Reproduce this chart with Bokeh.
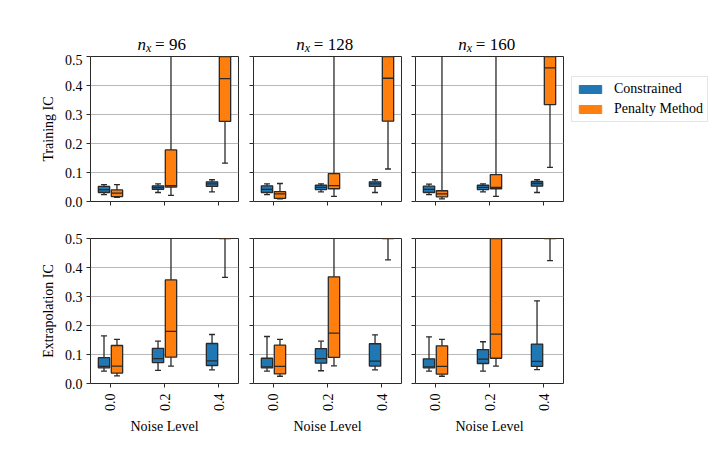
import math
import pandas as pd
from bokeh.plotting import figure
from bokeh.models import (ColumnDataSource, Range1d, FixedTicker, Label, Legend,
                          LegendItem, PrintfTickFormatter, CustomJSTickFormatter)
from bokeh.layouts import row, column
from bokeh.embed import file_html
from bokeh.resources import INLINE

# ---------------- data ----------------
noise_levels = ["0.0", "0.2", "0.4"]
nx_values = [96, 128, 160]
methods = ["Constrained", "Penalty Method"]
row_labels = ["Training IC", "Extrapolation IC"]
y_ticks = [0.0, 0.1, 0.2, 0.3, 0.4, 0.5]

# each entry: [whisker_low, q1, median, q3, whisker_high] per noise level
train_con_96 = [[0.024, 0.031, 0.041, 0.052, 0.058], [0.031, 0.042, 0.048, 0.054, 0.061], [0.033, 0.052, 0.061, 0.068, 0.075]]
train_pen_96 = [[0.014, 0.017, 0.029, 0.040, 0.058], [0.021, 0.050, 0.055, 0.178, 0.80], [0.132, 0.276, 0.424, 0.60, 0.90]]
train_con_128 = [[0.024, 0.031, 0.042, 0.054, 0.061], [0.033, 0.041, 0.049, 0.056, 0.061], [0.031, 0.052, 0.061, 0.068, 0.075]]
train_pen_128 = [[0.009, 0.011, 0.026, 0.034, 0.062], [0.018, 0.044, 0.055, 0.096, 0.80], [0.112, 0.277, 0.425, 0.60, 0.90]]
train_con_160 = [[0.024, 0.031, 0.042, 0.053, 0.060], [0.033, 0.041, 0.049, 0.056, 0.061], [0.031, 0.053, 0.062, 0.069, 0.075]]
train_pen_160 = [[0.009, 0.016, 0.026, 0.037, 0.70], [0.018, 0.044, 0.049, 0.093, 0.80], [0.118, 0.334, 0.461, 0.60, 0.90]]

ext_con_96 = [[0.043, 0.054, 0.059, 0.089, 0.164], [0.045, 0.072, 0.086, 0.121, 0.146], [0.047, 0.062, 0.078, 0.138, 0.169]]
ext_pen_96 = [[0.026, 0.036, 0.060, 0.131, 0.152], [0.060, 0.091, 0.180, 0.357, 0.80], [0.366, 0.60, 0.75, 0.90, 1.20]]
ext_con_128 = [[0.043, 0.054, 0.057, 0.087, 0.162], [0.044, 0.070, 0.086, 0.120, 0.146], [0.047, 0.060, 0.077, 0.137, 0.168]]
ext_pen_128 = [[0.025, 0.033, 0.059, 0.132, 0.152], [0.061, 0.090, 0.174, 0.368, 0.80], [0.426, 0.60, 0.75, 0.90, 1.20]]
ext_con_160 = [[0.043, 0.054, 0.057, 0.085, 0.161], [0.043, 0.069, 0.084, 0.117, 0.144], [0.048, 0.059, 0.076, 0.136, 0.285]]
ext_pen_160 = [[0.025, 0.032, 0.059, 0.130, 0.152], [0.060, 0.087, 0.170, 0.55, 0.90], [0.424, 0.60, 0.75, 0.90, 1.20]]

panels = [
    [(train_con_96, train_pen_96), (train_con_128, train_pen_128), (train_con_160, train_pen_160)],
    [(ext_con_96, ext_pen_96), (ext_con_128, ext_pen_128), (ext_con_160, ext_pen_160)],
]

# ---------------- style ----------------
SERIF = "'Liberation Serif', 'Times New Roman', serif"
COLORS = ["#1f77b4", "#ff7f0e"]
EDGE = "#2a2a2a"
OFFSETS = [-0.12, 0.12]
BOX_W = 0.21
CAP_HALF = 0.055
FRAME_W, FRAME_H = 148, 145
BORDER_L = [90, 13, 12]
BORDER_R = [2, 2, 2]
TITLE_H = 54
TITLE_FS = 17


def box_source(stats, offset):
    df = pd.DataFrame(stats, columns=["lo", "q1", "med", "q3", "hi"])
    df["x"] = [i + offset for i in range(len(stats))]
    df["bl"] = df["x"] - BOX_W / 2
    df["br"] = df["x"] + BOX_W / 2
    df["cl"] = df["x"] - CAP_HALF
    df["cr"] = df["x"] + CAP_HALF
    return ColumnDataSource(df)


def blank_fig(width, height, left=0, right=0):
    p = figure(frame_width=width, frame_height=height,
               x_range=Range1d(0, width), y_range=Range1d(0, height),
               output_backend="svg", toolbar_location=None,
               min_border_left=left, min_border_right=right,
               min_border_top=0, min_border_bottom=0)
    p.axis.visible = False
    p.grid.visible = False
    p.outline_line_color = None
    return p


def make_title(c):
    p = blank_fig(FRAME_W, TITLE_H, BORDER_L[c], BORDER_R[c])
    num = str(nx_values[c])
    total = 0.5 * TITLE_FS + 5.5 + 3 + 0.564 * TITLE_FS + 0.25 * TITLE_FS + 0.5 * TITLE_FS * len(num)
    left = FRAME_W / 2 - 3 - total / 2
    base = 10
    common = dict(text_font=SERIF, text_baseline="alphabetic", text_align="left", text_color="black")
    p.add_layout(Label(x=left, y=base, text="n", text_font_style="italic",
                       text_font_size=f"{TITLE_FS}px", **common))
    p.add_layout(Label(x=left + 0.5 * TITLE_FS, y=base - 3, text="x", text_font_style="italic",
                       text_font_size="12px", **common))
    p.add_layout(Label(x=left + 0.5 * TITLE_FS + 9, y=base, text=f"= {num}",
                       text_font_size=f"{TITLE_FS}px", **common))
    return p


def make_panel(r, c, con, pen):
    p = figure(frame_width=FRAME_W, frame_height=FRAME_H,
               x_range=Range1d(-0.37, 2.37), y_range=Range1d(0, 0.5),
               output_backend="svg", toolbar_location=None,
               min_border_left=BORDER_L[c], min_border_right=BORDER_R[c],
               min_border_top=2 if r == 0 else 7,
               min_border_bottom=30 if r == 0 else 55)
    p.outline_line_color = EDGE
    p.outline_line_width = 1
    p.xgrid.visible = False
    p.ygrid.grid_line_color = "#b8b8b8"
    p.ygrid.grid_line_width = 1
    p.ygrid.ticker = FixedTicker(ticks=y_ticks)

    for ax in (p.xaxis[0], p.yaxis[0]):
        ax.axis_line_color = None
        ax.major_tick_in = 0
        ax.major_tick_out = 4
        ax.major_tick_line_color = EDGE
        ax.minor_tick_line_color = None
        ax.major_label_text_font = SERIF
        ax.major_label_text_font_size = "14px"
        ax.major_label_text_color = "black"
        ax.axis_label_text_font = SERIF
        ax.axis_label_text_font_size = "14px"
        ax.axis_label_text_font_style = "normal"
        ax.axis_label_text_color = "black"

    p.yaxis.ticker = FixedTicker(ticks=y_ticks)
    p.xaxis.ticker = FixedTicker(ticks=[0, 1, 2])
    if c == 0:
        p.yaxis.formatter = PrintfTickFormatter(format="%.1f")
        p.yaxis.major_label_standoff = 4
        p.yaxis.axis_label = row_labels[r]
        p.yaxis.axis_label_standoff = 6
    else:
        p.yaxis.formatter = CustomJSTickFormatter(code="return ''")
        p.yaxis.major_label_standoff = 0
    if r == 1:
        p.xaxis.major_label_overrides = {i: lab for i, lab in enumerate(noise_levels)}
        p.xaxis.major_label_orientation = math.pi / 2
        p.xaxis.major_label_standoff = 6
        p.xaxis.axis_label = "Noise Level"
        p.xaxis.axis_label_standoff = 5
    else:
        p.xaxis.formatter = CustomJSTickFormatter(code="return ''")
        p.xaxis.major_label_standoff = 0

    for m, stats in enumerate((con, pen)):
        src = box_source(stats, OFFSETS[m])
        p.segment(x0="x", y0="q3", x1="x", y1="hi", source=src, line_color=EDGE, line_width=1.3)
        p.segment(x0="x", y0="q1", x1="x", y1="lo", source=src, line_color=EDGE, line_width=1.3)
        p.segment(x0="cl", y0="hi", x1="cr", y1="hi", source=src, line_color=EDGE, line_width=1.3)
        p.segment(x0="cl", y0="lo", x1="cr", y1="lo", source=src, line_color=EDGE, line_width=1.3)
        p.vbar(x="x", width=BOX_W, bottom="q1", top="q3", source=src,
               fill_color=COLORS[m], line_color=EDGE, line_width=1.3)
        p.segment(x0="bl", y0="med", x1="br", y1="med", source=src, line_color=EDGE, line_width=1.3)
    return p


def make_legend_fig(height):
    p = blank_fig(150, height)
    items = []
    for m, name in enumerate(methods):
        # swatch renderer placed outside the visible range; only its legend glyph shows
        dummy = p.vbar(x=[-100], top=[-50], bottom=[-60], width=1,
                       fill_color=COLORS[m], line_color=COLORS[m])
        items.append(LegendItem(label=name, renderers=[dummy]))
    legend = Legend(items=items, location=(6, 109),
                    label_text_font=SERIF, label_text_font_size="14px",
                    label_text_color="black",
                    glyph_width=28, glyph_height=10, label_standoff=10,
                    padding=4, spacing=4, label_height=16, margin=0,
                    border_line_color="#cccccc", border_line_width=1,
                    background_fill_color="white", background_fill_alpha=1)
    p.add_layout(legend, "center")
    return p


titles = [make_title(c) for c in range(3)]
figs = [[make_panel(r, c, *panels[r][c]) for c in range(3)] for r in range(2)]
legend_fig = make_legend_fig(2 + FRAME_H + 30)
layout = column(row(*titles), row(*figs[0], legend_fig), row(*figs[1]))

open("out.html", "w").write(file_html(layout, INLINE))
